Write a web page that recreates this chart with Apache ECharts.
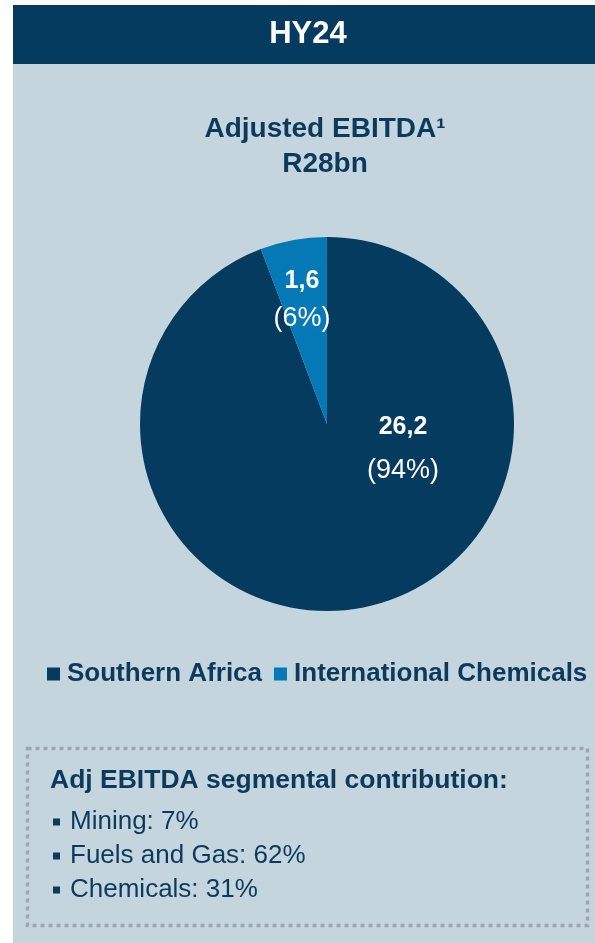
<!DOCTYPE html>
<html>
<head>
<meta charset="utf-8">
<script src="https://cdn.jsdelivr.net/npm/echarts@6/dist/echarts.min.js"></script>
<style>
html,body{margin:0;padding:0;background:#fff;}
#main{width:595px;height:943px;}
</style>
</head>
<body>
<div id="main"></div>
<script>
const headerText = 'HY24';
const titleLines = ['Adjusted EBITDA\u00B9', 'R28bn'];
const categories = ['Southern Africa', 'International Chemicals'];
const values = [26.2, 1.6];
const colors = ['#053B5F', '#0579B5'];
const boxTitle = 'Adj EBITDA segmental contribution:';
const segments = ['Mining', 'Fuels and Gas', 'Chemicals'];
const segmentPct = [7, 62, 31];

const FONT = '"Liberation Sans", Arial, sans-serif';
const NAVY = '#0B3A5D';
const chart = echarts.init(document.getElementById('main'), null, {renderer: 'canvas'});

// label anchor offsets relative to pie centre (style only)
const cx = 327, cy = 424, R = 187;
const labelOffsets = [[76, 25], [-25, -124]];
const labelLH = [43.5, 38];

const data = categories.map((c, i) => ({
  name: c,
  value: values[i],
  itemStyle: {color: colors[i]},
  label: {rich: {
    v: {fontFamily: FONT, fontWeight: 'bold', fontSize: 25, color: '#fff', lineHeight: labelLH[i]},
    p: {fontFamily: FONT, fontSize: 27, color: '#fff', lineHeight: labelLH[i]}
  }}
}));

const bulletTexts = segments.map((s, i) => s + ': ' + segmentPct[i] + '%');
const bulletY = [822, 856, 890];

chart.setOption({
  animation: false,
  graphic: [
    {type: 'rect', shape: {x: 13, y: 5, width: 582, height: 938}, style: {fill: '#C4D5DE'}, z: -10},
    {type: 'rect', shape: {x: 13, y: 5, width: 582, height: 59}, style: {fill: '#053B5F'}, z: -9},
    {type: 'text', x: 308, y: 34, style: {text: headerText, fill: '#fff', font: 'bold 31px ' + FONT, textAlign: 'center', textVerticalAlign: 'middle'}},
    {type: 'rect', shape: {x: 27.5, y: 748.5, width: 560, height: 177}, style: {fill: 'none', stroke: '#9BA6AE', lineWidth: 3.5, lineDash: [4, 4]}, z: -5},
    {type: 'text', x: 50, y: 781, style: {text: boxTitle, fill: NAVY, font: 'bold 26.5px ' + FONT, textVerticalAlign: 'middle'}},
    ...bulletTexts.map((t, i) => ({
      type: 'text', x: 70, y: bulletY[i],
      style: {text: t, fill: NAVY, font: '26px ' + FONT, textVerticalAlign: 'middle'}
    })),
    ...bulletTexts.map((t, i) => ({
      type: 'rect', shape: {x: 53, y: bulletY[i] - 3.5, width: 7, height: 7}, style: {fill: NAVY}
    }))
  ],
  title: {
    text: titleLines.join('\n'),
    left: 320, top: 107, textAlign: 'center',
    textStyle: {fontFamily: FONT, fontWeight: 'bold', fontSize: 28, color: NAVY, lineHeight: 35}
  },
  legend: {
    data: categories,
    left: 42, top: 656,
    icon: 'rect', itemWidth: 13, itemHeight: 13, itemGap: 12,
    selectedMode: false,
    textStyle: {fontFamily: FONT, fontWeight: 'bold', fontSize: 26, color: NAVY, padding: [0, 0, 0, 2]}
  },
  series: [{
    type: 'pie',
    center: [cx, cy],
    radius: R,
    startAngle: 90,
    clockwise: true,
    data: data,
    silent: true,
    label: {
      show: true, position: 'inside', align: 'center', verticalAlign: 'middle',
      formatter: p => '{v|' + String(p.value).replace('.', ',') + '}\n{p|(' + Math.round(p.percent) + '%)}'
    },
    labelLine: {show: false},
    labelLayout: p => ({x: cx + labelOffsets[p.dataIndex][0], y: cy + labelOffsets[p.dataIndex][1], align: 'center', verticalAlign: 'middle'}),
    emphasis: {disabled: true}
  }]
});
</script>
</body>
</html>
